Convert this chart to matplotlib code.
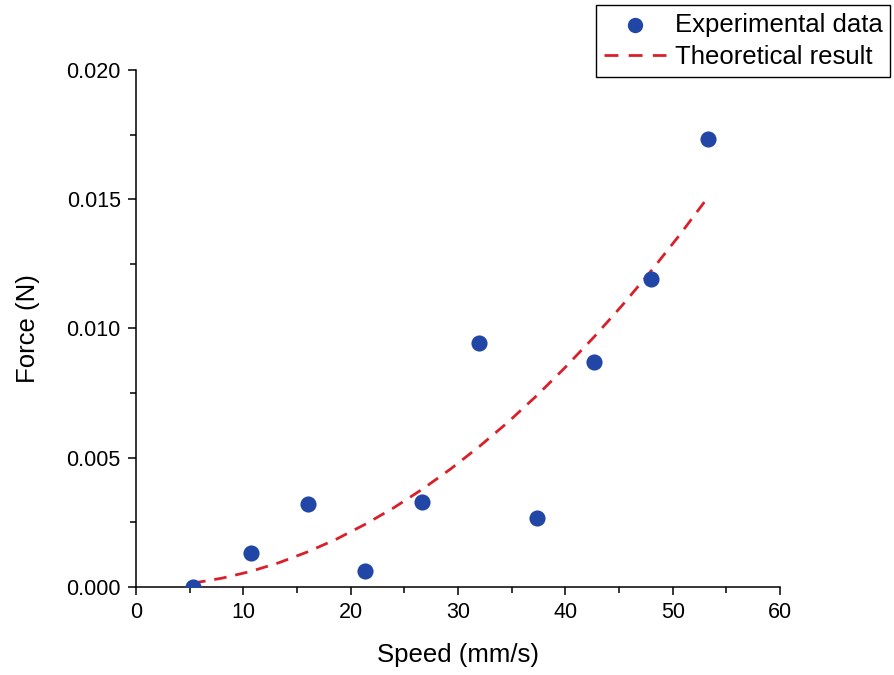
import matplotlib
matplotlib.use("Agg")
import matplotlib.pyplot as plt
from matplotlib.ticker import MultipleLocator, FormatStrFormatter

plt.rcParams['font.family'] = ['Liberation Sans', 'DejaVu Sans']

# Measured drag force at each towing speed
speed = [5.33, 10.67, 16.0, 21.33, 26.67, 32.0, 37.33, 42.67, 48.0, 53.33]
force = [0.0000, 0.00132, 0.00321, 0.00062, 0.00329, 0.00944, 0.00267, 0.00870, 0.01191, 0.01733]

# Theoretical prediction sampled along the speed range
theory_speed = [5.33, 8.0, 10.67, 13.33, 16.0, 18.67, 21.33, 24.0, 26.67, 29.33,
                32.0, 34.67, 37.33, 40.0, 42.67, 45.33, 48.0, 50.67, 53.33]
theory_force = [0.00015, 0.00034, 0.00060, 0.00094, 0.00136, 0.00185, 0.00242, 0.00306,
                0.00378, 0.00457, 0.00544, 0.00638, 0.00740, 0.00850, 0.00967, 0.01091,
                0.01223, 0.01363, 0.01510]

x_ticks = [0, 10, 20, 30, 40, 50, 60]
y_ticks = [0.000, 0.005, 0.010, 0.015, 0.020]

fig = plt.figure(figsize=(8.94, 6.75), dpi=100)
ax = fig.add_axes([0.1521, 0.1304, 0.7204, 0.7659])

pts = ax.scatter(speed, force, s=135, color='#2146a5', zorder=3,
                 label='Experimental data', linewidths=0)
line, = ax.plot(theory_speed, theory_force, color='#d9202a', lw=2.0,
                dashes=(4.5, 3.2), label='Theoretical result', zorder=2)

ax.set_xlim(0, 60)
ax.set_ylim(0, 0.020)
ax.set_xticks(x_ticks)
ax.set_yticks(y_ticks)
ax.xaxis.set_minor_locator(MultipleLocator(5))
ax.yaxis.set_minor_locator(MultipleLocator(0.0025))
ax.yaxis.set_major_formatter(FormatStrFormatter('%.3f'))

for side in ('top', 'right'):
    ax.spines[side].set_visible(False)
for side in ('left', 'bottom'):
    ax.spines[side].set_linewidth(1.1)

ax.tick_params(which='major', direction='out', length=6, width=1.1,
               labelsize=15.5, pad=5)
ax.tick_params(which='minor', direction='out', length=4, width=1.1)

ax.set_xlabel('Speed (mm/s)', fontsize=18.5, labelpad=14)
ax.set_ylabel('Force (N)', fontsize=18.5, labelpad=19)

leg = fig.legend(handles=[pts, line], loc='upper right',
                 bbox_to_anchor=(0.9955, 0.9926), fontsize=18.5,
                 frameon=True, fancybox=False, framealpha=1,
                 edgecolor='black', borderpad=0.3, labelspacing=0.32,
                 handlelength=2.4, handletextpad=0.35, borderaxespad=0.0,
                 markerscale=0.95)
leg.get_frame().set_linewidth(1.0)
# three even dashes across the legend key
leg.get_lines()[0].set_dashes((5.0, 3.7))

fig.savefig('out.png', dpi=100)
